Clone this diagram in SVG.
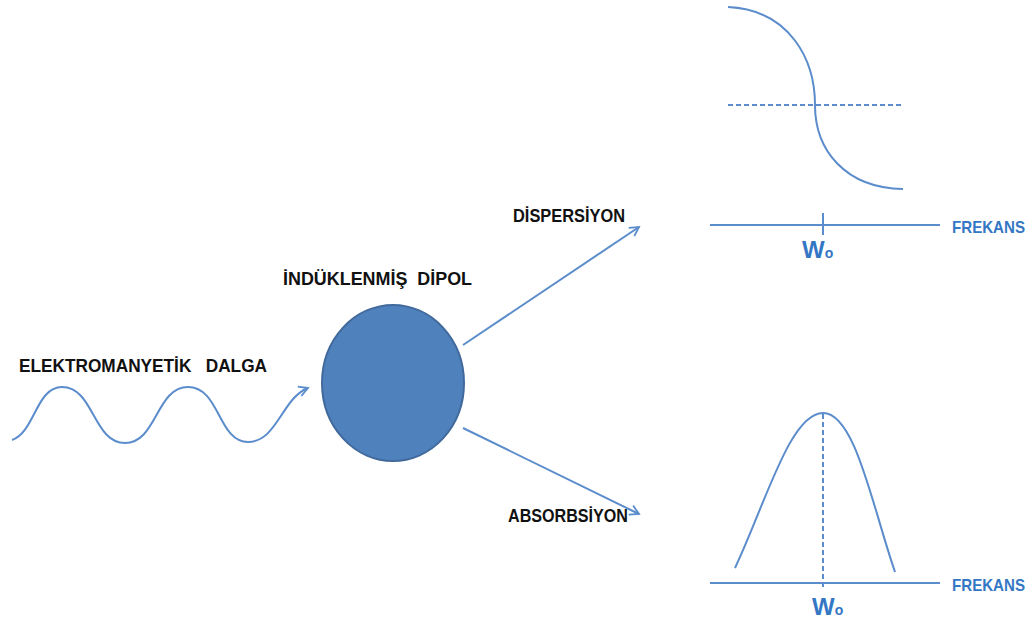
<svg xmlns="http://www.w3.org/2000/svg" width="1035" height="625" viewBox="0 0 1035 625">
<defs>
<marker id="arr" viewBox="0 0 12 12" refX="10" refY="6" markerWidth="12" markerHeight="12" markerUnits="userSpaceOnUse" orient="auto">
<path d="M1,1 L10,6 L1,11" fill="none" stroke="#5B8CCB" stroke-width="1.8"/>
</marker>
<style>
.lbl{font-family:"Liberation Sans",Arial,sans-serif;font-weight:bold;font-size:19px;fill:#111;white-space:pre}
.blue{font-family:"Liberation Sans",Arial,sans-serif;font-weight:bold;fill:#3477C4}
.ln{fill:none;stroke:#5B8CCB;stroke-width:2}
.dash{fill:none;stroke:#5B8CCB;stroke-width:2;stroke-dasharray:5,3}
</style>
</defs>
<rect width="1035" height="625" fill="#fff"/>
<g id="wave">
<path class="ln" d="M12,440 C35,432 36,387 62,387 C94,387 93,443 125,443 C157,443 156,387 188,387 C220,387 218,442 248,442 C277,442 282,398 308,388" marker-end="url(#arr)"/>
<text class="lbl" x="19" y="372" xml:space="preserve" textLength="248" lengthAdjust="spacingAndGlyphs">ELEKTROMANYETİK   DALGA</text>
</g>
<g id="dipole">
<ellipse cx="393" cy="383" rx="71" ry="78" fill="#4F81BD" stroke="#41699C" stroke-width="2"/>
<text class="lbl" x="283" y="285" xml:space="preserve" textLength="189" lengthAdjust="spacingAndGlyphs">İNDÜKLENMİŞ  DİPOL</text>
</g>
<g id="connectors">
<line class="ln" x1="463" y1="345" x2="639" y2="227" marker-end="url(#arr)"/>
<line class="ln" x1="463" y1="428" x2="639" y2="514" marker-end="url(#arr)"/>
</g>
<g id="dispersion-label">
<text class="lbl" x="513" y="222" textLength="112" lengthAdjust="spacingAndGlyphs">DİSPERSİYON</text>
</g>
<g id="absorption-label">
<text class="lbl" x="508" y="522" textLength="120" lengthAdjust="spacingAndGlyphs">ABSORBSİYON</text>
</g>
<g id="dispersion-graph">
<line class="dash" x1="728" y1="105" x2="903" y2="105"/>
<path class="ln" d="M728,7 C790,10 815,60 815,105 C815,150 845,188 903,189"/>
<line class="ln" x1="710" y1="225" x2="940" y2="225"/>
<line class="ln" x1="823" y1="213" x2="823" y2="235"/>
<text class="blue" x="802" y="258" font-size="24">W<tspan font-size="14">o</tspan></text>
<text class="blue" x="952" y="233" font-size="17" textLength="73" lengthAdjust="spacingAndGlyphs">FREKANS</text>
</g>
<g id="absorption-graph">
<path class="ln" d="M735,568 C765,505 790,413 823,413 C855,413 872,505 895,572"/>
<line class="dash" x1="823" y1="414" x2="823" y2="590"/>
<line class="ln" x1="710" y1="583" x2="940" y2="583"/>
<text class="blue" x="812" y="615" font-size="24">W<tspan font-size="14">o</tspan></text>
<text class="blue" x="952" y="591" font-size="17" textLength="73" lengthAdjust="spacingAndGlyphs">FREKANS</text>
</g>
</svg>
